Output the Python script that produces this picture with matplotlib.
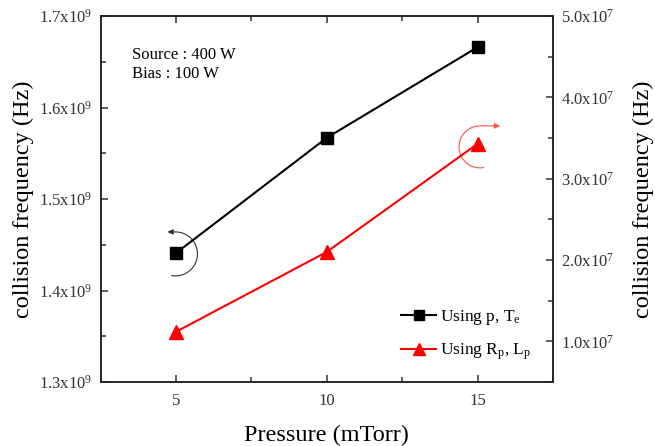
import matplotlib
matplotlib.use("Agg")
import numpy as np
import matplotlib.pyplot as plt
from matplotlib.ticker import FuncFormatter, MultipleLocator
from matplotlib.patches import FancyArrowPatch
from matplotlib.path import Path

plt.rcParams['font.family'] = ['Liberation Serif', 'DejaVu Serif']
plt.rcParams['mathtext.fontset'] = 'custom'
plt.rcParams['mathtext.rm'] = 'Liberation Serif'
plt.rcParams['mathtext.it'] = 'Liberation Serif:italic'
plt.rcParams['mathtext.bf'] = 'Liberation Serif:bold'

# data
pressure = [5, 10, 15]
freq_p_te = [1.441e9, 1.567e9, 1.666e9]     # left axis
freq_rp_lp = [1.118e7, 2.10e7, 3.43e7]      # right axis

fig = plt.figure(figsize=(6.55, 4.46), dpi=100)
ax = fig.add_axes([0.1537, 0.1435, 0.6906, 0.8205])
ax2 = ax.twinx()

l1, = ax.plot(pressure, freq_p_te, color='black', lw=1.5, marker='s', ms=8,
              label=r'Using p, T$_\mathrm{e}$')
l2, = ax2.plot(pressure, freq_rp_lp, color='red', lw=1.5, marker='^', ms=10,
               label=r'Using R$_\mathrm{p}$, L$_\mathrm{p}$')

ax.set_xlim(2.5, 17.5)
ax.set_ylim(1.3e9, 1.7e9)
ax2.set_ylim(0.5e7, 5.0e7)

ax.xaxis.set_major_locator(MultipleLocator(5))
ax.xaxis.set_minor_locator(MultipleLocator(2.5))
ax.yaxis.set_major_locator(MultipleLocator(0.1e9))
ax.yaxis.set_minor_locator(MultipleLocator(0.05e9))
ax2.yaxis.set_major_locator(MultipleLocator(1e7))
ax2.yaxis.set_minor_locator(MultipleLocator(0.5e7))

ax.yaxis.set_major_formatter(FuncFormatter(lambda v, p: f"{v/1e9:.1f}x10$^{{9}}$"))
ax2.yaxis.set_major_formatter(FuncFormatter(
    lambda v, p: f"{v/1e7:.1f}x10$^{{7}}$" if v >= 0.99e7 else ""))

ax.tick_params(axis='both', which='both', direction='in', top=True, right=False,
               labelsize=12, width=1.1, colors='#333333', labelcolor='#333333')
ax.tick_params(which='major', length=5)
ax.tick_params(which='minor', length=3.5)
ax2.tick_params(axis='y', which='both', direction='in', labelsize=12, width=1.1,
                colors='#333333', labelcolor='#333333')
ax2.tick_params(which='major', length=5)
ax2.tick_params(which='minor', length=3.5)
ax.tick_params(axis='x', pad=8)
ax.tick_params(axis='y', pad=6)
ax2.tick_params(axis='y', pad=6)

for a in (ax, ax2):
    for s in a.spines.values():
        s.set_linewidth(1.1)
        s.set_color('#222222')

ax.set_xlabel('Pressure (mTorr)', fontsize=17.5, labelpad=11)
ax.set_ylabel('collision frequency (Hz)', fontsize=17.5, labelpad=4)
ax2.set_ylabel('collision frequency (Hz)', fontsize=17.5, labelpad=13)

ax.text(0.069, 0.8675, 'Source : 400 W\nBias : 100 W', transform=ax.transAxes,
        fontsize=12, va='center', ha='left', linespacing=1.3)

ax.legend(handles=[l1, l2], loc='lower right', bbox_to_anchor=(0.985, 0.012),
          frameon=False, fontsize=12.5, handlelength=2.0, handletextpad=0.2,
          labelspacing=0.85, markerscale=0.85)


# curved arrows telling which axis each series uses (half circles in pixels)
def axis_arrow(cx, cy, r_px, a0, a1, tail_px, color):
    sx = (ax.get_xlim()[1] - ax.get_xlim()[0]) / ax.bbox.width
    sy = (ax.get_ylim()[1] - ax.get_ylim()[0]) / ax.bbox.height
    t = np.radians(np.linspace(a0, a1, 40))
    xs = cx + r_px * np.cos(t) * sx
    ys = cy + r_px * np.sin(t) * sy
    verts = list(zip(xs, ys)) + [(xs[-1] + tail_px * sx, ys[-1])]
    codes = [Path.MOVETO] + [Path.LINETO] * (len(verts) - 1)
    ax.add_patch(FancyArrowPatch(path=Path(verts, codes), arrowstyle='-|>',
                                 mutation_scale=8, color=color, lw=0.8))


axis_arrow(4.98, 1.440e9, 22, -100, 90, -8, '#333333')
axis_arrow(15.08, 1.557e9, 21, 280, 90, 20, '#ff5050')

fig.savefig('out.png', dpi=100)
